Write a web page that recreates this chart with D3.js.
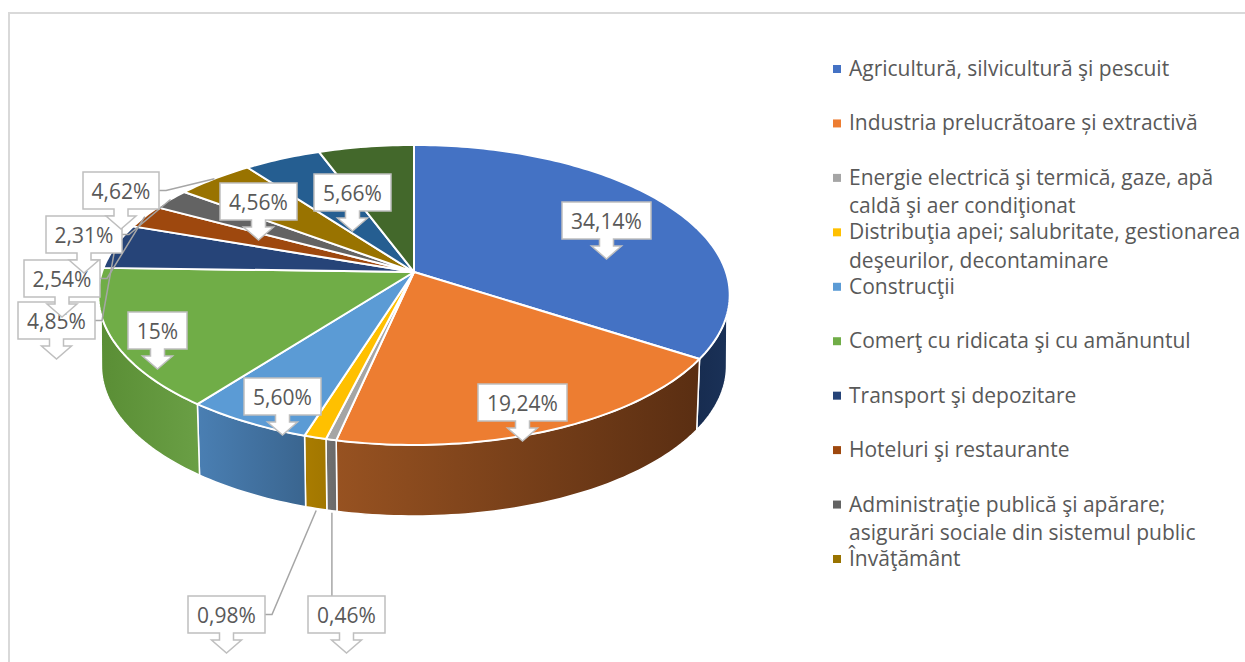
<!DOCTYPE html>
<html>
<head>
<meta charset="utf-8">
<script src="https://cdn.jsdelivr.net/npm/d3@7"></script>
<style>
  html, body { margin: 0; padding: 0; background: #fff; overflow: hidden; }
  svg { display: block; }
  text { font-family: "Open Sans", "Noto Sans", sans-serif; fill: #595959; }
</style>
</head>
<body>
<div id="chart"></div>
<script>
// Clockwise from 12 o'clock. The legend in the picture is cut after ten entries
const values = [34.14, 19.24, 0.46, 0.98, 5.60, 15, 4.85, 2.54, 2.31, 4.62, 4.56, 5.66];
const sliceColors = ["#4472c4", "#ed7d31", "#a5a5a5", "#ffc000", "#5b9bd5", "#70ad47",
                     "#264478", "#9e480e", "#636363", "#997300", "#255e91", "#43682b"];
// [left, right] as seen on screen
const wallColors = [["#172c50", "#1a3157"], ["#975221", "#5a2e12"], ["#707070", "#6a6a6a"],
                    ["#a97c00", "#a27700"], ["#4a7fb3", "#3a658f"], ["#5a8e35", "#6a9f45"]];
const legendLines = [
    ["Agricultură, silvicultură şi pescuit"],
    ["Industria prelucrătoare și extractivă"],
    ["Energie electrică şi termică, gaze, apă", "caldă şi aer condiţionat"],
    ["Distribuţia apei; salubritate, gestionarea", "deşeurilor, decontaminare"],
    ["Construcţii"],
    ["Comerţ cu ridicata şi cu amănuntul"],
    ["Transport şi depozitare"],
    ["Hoteluri şi restaurante"],
    ["Administraţie publică şi apărare;", "asigurări sociale din sistemul public"],
    ["Învăţământ"]
];

// callout boxes, same order as values
const labelBoxes = [
    {x: 562, y: 202, w: 89}, {x: 478, y: 384, w: 89}, {x: 308, y: 596, w: 77},
    {x: 188, y: 596, w: 77}, {x: 244, y: 378, w: 77}, {x: 128, y: 312, w: 59},
    {x: 18, y: 302, w: 77},  {x: 24, y: 260, w: 76},  {x: 46, y: 216, w: 76},
    {x: 83, y: 172, w: 76},  {x: 220, y: 183, w: 77}, {x: 314, y: 174, w: 77}
];
const boxHeight = 37;

const width = 1245, height = 662;
const depth = 71;          // height of the pie wall
const persp = 0.153;       // front of the pie is drawn bigger than the back
const bottomScale = 0.99;

const svg = d3.select("#chart").append("svg").attr("width", width).attr("height", height);

// page frame, open on the right and at the bottom
svg.append("path")
    .attr("d", d3.line()([[9, height], [9, 13], [width, 13]]))
    .attr("fill", "none").attr("stroke", "#d9d9d9").attr("stroke-width", 2);

const xScale = d3.scaleLinear().domain([-1, 1]).range([414 - 312, 414 + 312]);
const yScale = d3.scaleLinear().domain([-1, 1]).range([272 - 146.5, 272 + 146.5]);
const xBottom = d3.scaleLinear().domain([-1, 1]).range([414 - 312 * bottomScale, 414 + 312 * bottomScale]);

// angle is clockwise from the top, as d3.pie gives it
function project(angle, scaleX = xScale, dy = 0) {
    const u = Math.sin(angle), v = -Math.cos(angle);
    const w = 1 - persp * v;
    return [scaleX(u / w), yScale(v / w) + dy];
}

function arcPoints(a0, a1, scaleX, dy) {
    const n = Math.max(2, Math.ceil(Math.abs(a1 - a0) / 0.02));
    return d3.range(n + 1).map(i => project(a0 + (a1 - a0) * i / n, scaleX, dy));
}

const pie = d3.pie().sort(null).value(d => d).startAngle(0).endAngle(2 * Math.PI);
const slices = pie(values);
const line = d3.line();

// ----- walls -----
const topFrom = Math.acos(-0.28), topTo = 2 * Math.PI - topFrom;
const botFrom = Math.acos(-0.15), botTo = 2 * Math.PI - botFrom;

const defs = svg.append("defs");
wallColors.forEach((c, i) => {
    const g = defs.append("linearGradient").attr("id", "wall" + i);
    g.append("stop").attr("offset", "0%").attr("stop-color", c[0]);
    g.append("stop").attr("offset", "100%").attr("stop-color", c[1]);
});

wallColors.forEach((c, i) => {
    const s = slices[i];
    const t0 = Math.max(s.startAngle, topFrom), t1 = Math.min(s.endAngle, topTo);
    const b0 = Math.max(s.startAngle, botFrom), b1 = Math.min(s.endAngle, botTo);
    const pts = arcPoints(t0, t1, xScale, 0).concat(arcPoints(b1, b0, xBottom, depth));
    svg.append("path")
        .attr("d", line(pts) + "Z")
        .attr("fill", `url(#wall${i})`)
        .attr("stroke", "#fff").attr("stroke-width", 1.5).attr("stroke-linejoin", "round");
});

// ----- top face -----
svg.selectAll("path.slice")
    .data(slices)
    .join("path")
    .attr("class", "slice")
    .attr("d", d => line([[xScale(0), yScale(0)]].concat(arcPoints(d.startAngle, d.endAngle, xScale, 0))) + "Z")
    .attr("fill", (d, i) => sliceColors[i])
    .attr("stroke", "#fff").attr("stroke-width", 2).attr("stroke-linejoin", "round");

// ----- leader lines for the labels pushed off their slices -----
function midAngle(i) { return (slices[i].startAngle + slices[i].endAngle) / 2; }

const leaderTop = [6, 7, 8, 9];   // end on the rim of the top face
const leaderWall = [2, 3];        // end under the wall
const leaderColor = "#a6a6a6";

leaderTop.concat(leaderWall).forEach(i => {
    const b = labelBoxes[i];
    const end = leaderWall.includes(i)
        ? project(midAngle(i), xBottom, depth + 2)
        : project(midAngle(i));
    let pts;
    if (i === 2) {
        pts = [[end[0], b.y], end];       // straight up from the box top
    } else {
        const midY = b.y + boxHeight / 2;
        pts = [[b.x + b.w, midY], [b.x + b.w + 7, midY], end];
    }
    svg.append("path").attr("d", line(pts))
        .attr("fill", "none").attr("stroke", leaderColor).attr("stroke-width", 1.5);
});

// ----- callouts, box with a down arrow -----
function calloutPath(b) {
    const mid = b.x + b.w / 2, bottom = b.y + boxHeight;
    return line([
        [b.x, b.y], [b.x + b.w, b.y], [b.x + b.w, bottom],
        [mid + 7, bottom], [mid + 7, bottom + 7], [mid + 15, bottom + 7],
        [mid, bottom + 20],
        [mid - 15, bottom + 7], [mid - 7, bottom + 7], [mid - 7, bottom],
        [b.x, bottom]
    ]) + "Z";
}

function labelText(v) {
    const s = Number.isInteger(v) ? String(v) : d3.format(".2f")(v).replace(".", ",");
    return s + "%";
}

values.forEach((v, i) => {
    const b = labelBoxes[i];
    svg.append("path").attr("d", calloutPath(b))
        .attr("fill", "#fff").attr("stroke", "#bfbfbf").attr("stroke-width", 1.5);
    svg.append("text")
        .attr("x", b.x + b.w / 2).attr("y", b.y + 27)
        .attr("text-anchor", "middle")
        .attr("font-size", 21)
        .text(labelText(v));
});

// ----- legend -----
const legendY = d3.scaleLinear().domain([0, legendLines.length - 1]).range([69, 559]);

legendLines.forEach((lines, i) => {
    const y = legendY(i);
    svg.append("rect")
        .attr("x", 833).attr("y", y - 4).attr("width", 8).attr("height", 8)
        .attr("fill", sliceColors[i]);
    lines.forEach((t, j) => {
        svg.append("text")
            .attr("x", 849).attr("y", y + 7 + j * 28.5)
            .attr("font-size", 21)
            .text(t);
    });
});
</script>
</body>
</html>
